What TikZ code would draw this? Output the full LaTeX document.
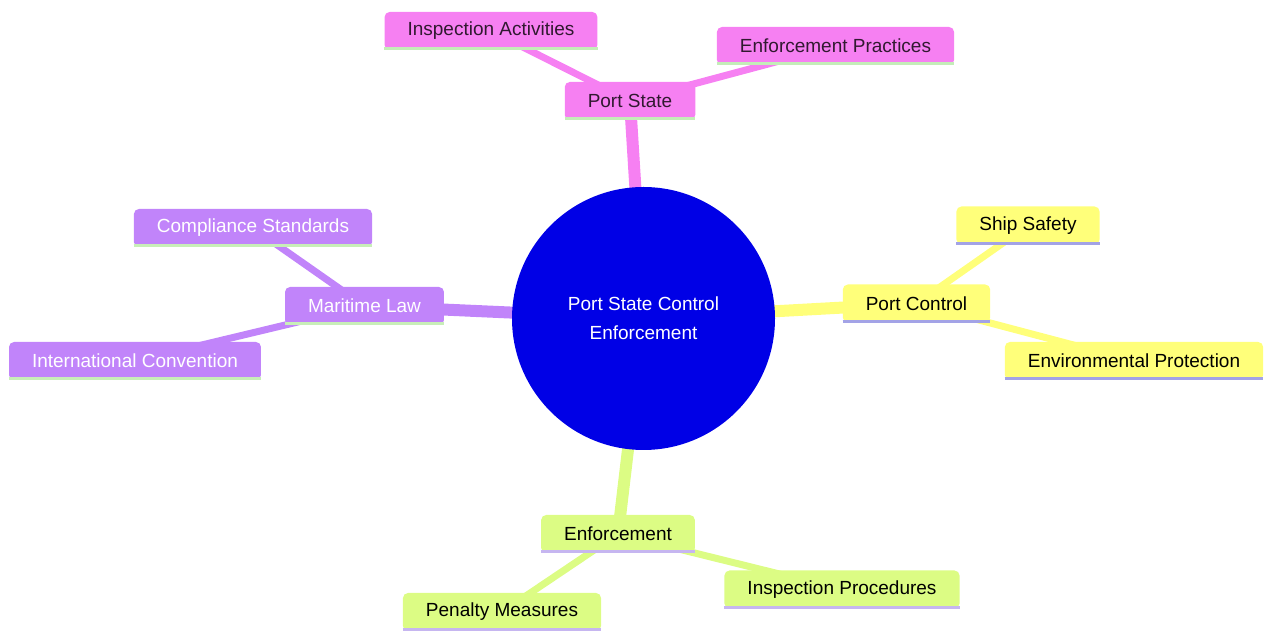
\documentclass[tikz,border=0pt]{standalone}
\usepackage{fontspec}
\setmainfont{Liberation Sans}
\usepackage{tikz}
\usetikzlibrary{positioning, backgrounds, calc}

\definecolor{rootblue}{HTML}{0000E6}
\definecolor{pinkfill}{HTML}{F680F2}
\definecolor{pinkline}{HTML}{C4EDB8}
\definecolor{purplefill}{HTML}{C184FA}
\definecolor{purpleline}{HTML}{C8EEB8}
\definecolor{yellowfill}{HTML}{FFFF7A}
\definecolor{yellowline}{HTML}{A3A3E6}
\definecolor{greenfill}{HTML}{DCFC84}
\definecolor{greenline}{HTML}{C6B6F0}

\tikzset{
	topic/.style={rectangle, rounded corners=5pt, fill=#1, minimum height=38pt,
		inner xsep=23pt, inner ysep=0pt, font=\fontsize{19}{22}\selectfont},
	trunk/.style={draw=#1, line width=12pt},
	twig/.style={draw=#1, line width=7pt},
	rootnode/.style={circle, fill=rootblue, text=white, minimum size=263pt, inner sep=0pt,
		align=center, font=\fontsize{19}{29}\selectfont}
}

\begin{document}
\begin{tikzpicture}[x=1pt, y=1pt]
	\useasboundingbox (0,0) rectangle (1264,632);

	% centre
	\node[rootnode] (root) at (643.5,313.5) {Port State Control\\Enforcement};

	% top branch
	\node[topic=pinkfill, text=black!80!pinkfill] (ps) at (630,531) {Port State};
	\node[topic=pinkfill, text=black!80!pinkfill] (ia) at (491,601) {Inspection Activities};
	\node[topic=pinkfill, text=black!80!pinkfill] (ep) at (835.5,586) {Enforcement Practices};

	% right branch
	\node[topic=yellowfill, text=black] (pc) at (916.5,328.5) {Port Control};
	\node[topic=yellowfill, text=black] (ss) at (1028,406.5) {Ship Safety};
	\node[topic=yellowfill, text=black] (envp) at (1134,271) {Environmental Protection};

	% bottom branch
	\node[topic=greenfill, text=black] (enf) at (618,98) {Enforcement};
	\node[topic=greenfill, text=black] (pm) at (502,20) {Penalty Measures};
	\node[topic=greenfill, text=black] (ipr) at (842,42.5) {Inspection Procedures};

	% left branch
	\node[topic=purplefill, text=white] (ml) at (364.5,326) {Maritime Law};
	\node[topic=purplefill, text=white] (cs) at (253,404) {Compliance Standards};
	\node[topic=purplefill, text=white] (ic) at (135,271) {International Convention};

	\begin{scope}[on background layer]
		\draw[trunk=pinkfill] (root.center) -- (ps.center);
		\draw[trunk=yellowfill] (root.center) -- (pc.center);
		\draw[trunk=greenfill] (root.center) -- (enf.center);
		\draw[trunk=purplefill] (root.center) -- (ml.center);
		\draw[twig=pinkfill] (ps.center) -- (ia.center);
		\draw[twig=pinkfill] (ps.center) -- (ep.center);
		\draw[twig=yellowfill] (pc.center) -- (ss.center);
		\draw[twig=yellowfill] (pc.center) -- (envp.center);
		\draw[twig=greenfill] (enf.center) -- (pm.center);
		\draw[twig=greenfill] (enf.center) -- (ipr.center);
		\draw[twig=purplefill] (ml.center) -- (cs.center);
		\draw[twig=purplefill] (ml.center) -- (ic.center);
	\end{scope}

	% underlines
	\foreach \n/\c in {ps/pinkline, ia/pinkline, ep/pinkline,
		pc/yellowline, ss/yellowline, envp/yellowline,
		enf/greenline, pm/greenline, ipr/greenline,
		ml/purpleline, cs/purpleline, ic/purpleline}
		\draw[line width=3pt, \c] ([yshift=1.5pt]\n.south west) -- ([yshift=1.5pt]\n.south east);
\end{tikzpicture}
\end{document}
